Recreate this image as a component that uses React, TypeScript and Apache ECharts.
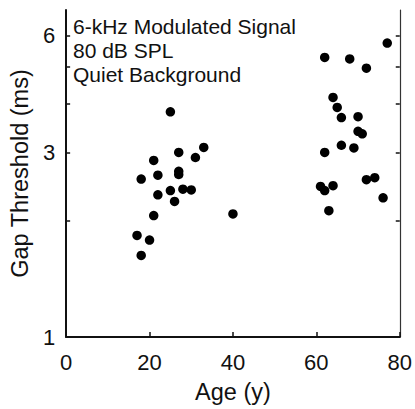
import React, { useEffect, useRef } from "react";
import * as echarts from "echarts";

// Young listeners
const youngAges = [17, 18, 20, 18, 21, 22, 22, 21, 25, 25, 26, 27, 27, 27, 28, 30, 31, 33, 40];
const youngThresholds = [1.83, 1.625, 1.78, 2.56, 2.86, 2.62, 2.33, 2.06, 3.82, 2.39, 2.24, 3.0, 2.68, 2.63, 2.41, 2.4, 2.91, 3.09, 2.08];

// Older listeners
const oldAges = [62, 68, 72, 77, 64, 65, 66, 70, 70, 71, 66, 69, 62, 61, 62, 64, 63, 72, 74, 76];
const oldThresholds = [5.28, 5.23, 4.95, 5.75, 4.16, 3.92, 3.69, 3.71, 3.4, 3.35, 3.13, 3.08, 3.0, 2.45, 2.39, 2.46, 2.12, 2.55, 2.58, 2.29];

const yLabelValues = [1, 3, 6];
const yTickValues = [2, 3, 4, 5, 6];
const annotationLines = ["6-kHz Modulated Signal", "80 dB SPL", "Quiet Background"];

const FONT = "Liberation Sans, Arial, Helvetica, sans-serif";

export default function App() {
  const ref = useRef<HTMLDivElement>(null);

  useEffect(() => {
    document.body.style.margin = "0";
    if (!ref.current) return;
    const chart = echarts.init(ref.current, undefined, { renderer: "svg" });

    const young = youngAges.map((a, i) => [a, youngThresholds[i]]);
    const old = oldAges.map((a, i) => [a, oldThresholds[i]]);

    const baseY = {
      type: "log" as const,
      logBase: 10,
      min: 1,
      max: 7,
      splitLine: { show: false },
      minorTick: { show: false },
    };

    chart.setOption({
      animation: false,
      backgroundColor: "#ffffff",
      grid: { left: 63.5, right: 14.5, top: 10, bottom: 68 },
      xAxis: {
        type: "value",
        min: 0,
        max: 80,
        interval: 20,
        name: "Age (y)",
        nameLocation: "middle",
        nameGap: 43,
        nameTextStyle: { fontFamily: FONT, fontSize: 23.5, color: "#111" },
        axisLine: { lineStyle: { color: "#111", width: 2 } },
        axisTick: { inside: true, length: 5, lineStyle: { color: "#111", width: 1.5 } },
        axisLabel: { fontFamily: FONT, fontSize: 22, color: "#111", margin: 14 },
        splitLine: { show: false },
      },
      yAxis: [
        {
          ...baseY,
          position: "left",
          name: "Gap Threshold (ms)",
          nameLocation: "middle",
          nameGap: 26,
          nameTextStyle: { fontFamily: FONT, fontSize: 23.5, color: "#111" },
          axisLine: { show: true, onZero: false, lineStyle: { color: "#111", width: 2 } },
          axisTick: { show: true, inside: true, length: 4, customValues: yTickValues, lineStyle: { color: "#111", width: 1.5 } },
          axisLabel: { show: true, customValues: yLabelValues, fontFamily: FONT, fontSize: 22, color: "#111", margin: 11, formatter: (v: number) => String(Math.round(v)) },
        },
        {
          ...baseY,
          position: "right",
          axisLine: { show: true, onZero: false, lineStyle: { color: "#333", width: 1.2 } },
          axisTick: { show: true, inside: true, length: 4, customValues: yTickValues, lineStyle: { color: "#111", width: 1.5 } },
          axisLabel: { show: false },
        },
      ],
      graphic: annotationLines.map((t, i) => ({
        type: "text",
        x: 73,
        y: 26.5 + i * 24,
        style: {
          text: t,
          fontFamily: FONT,
          fontSize: 21,
          fill: "#111",
          align: "left",
          verticalAlign: "middle",
        },
      })),
      series: [
        {
          type: "scatter",
          yAxisIndex: 0,
          data: young,
          symbol: "circle",
          symbolSize: 9.5,
          itemStyle: { color: "#000", opacity: 1 },
        },
        {
          type: "scatter",
          yAxisIndex: 0,
          data: old,
          symbol: "circle",
          symbolSize: 9.5,
          itemStyle: { color: "#000", opacity: 1 },
        },
      ],
    });

    return () => chart.dispose();
  }, []);

  return (
    <div
      ref={ref}
      style={{ position: "absolute", left: 0, top: 0, width: 415, height: 409, background: "#fff" }}
    />
  );
}
